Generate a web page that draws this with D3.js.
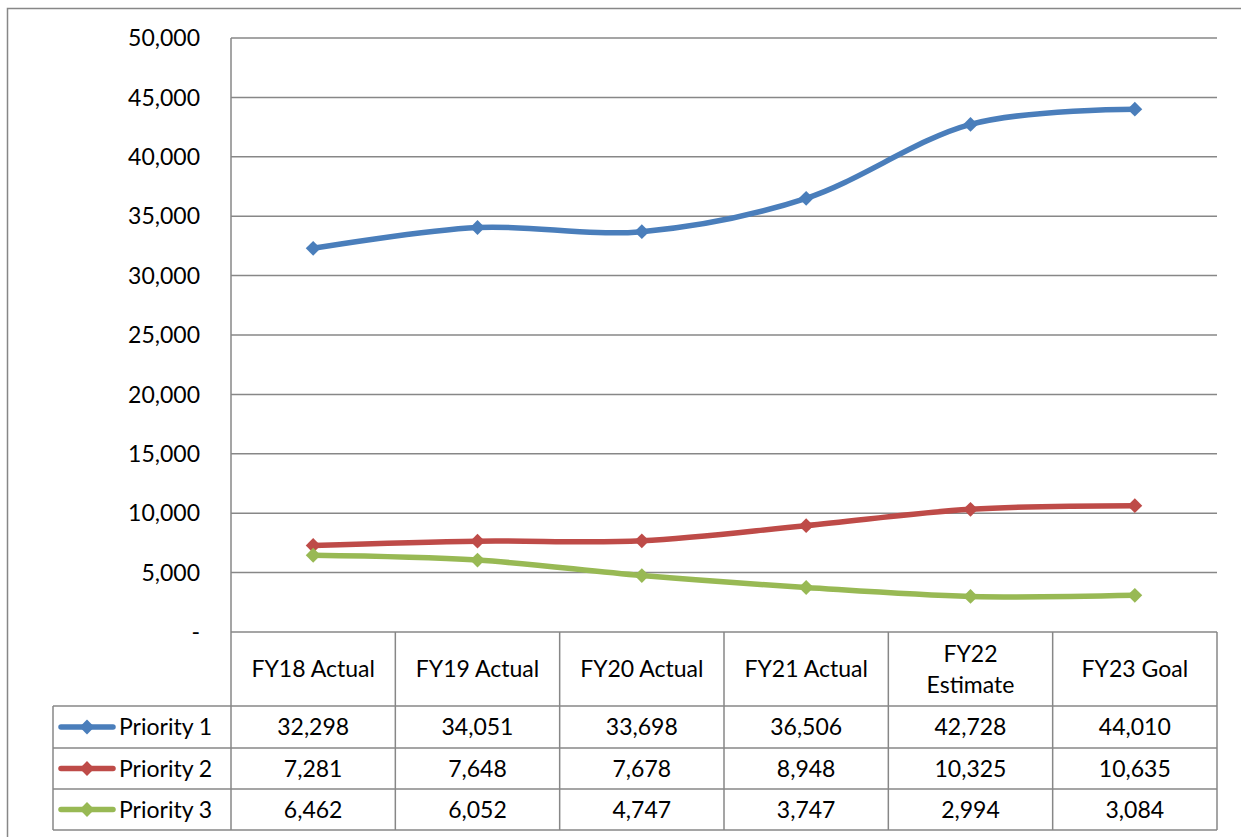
<!DOCTYPE html>
<html>
<head>
<meta charset="utf-8">
<script src="https://cdn.jsdelivr.net/npm/d3@7"></script>
<style>
  body { margin: 0; background: #fff; }
  text { font-family: Lato, "Open Sans", sans-serif; fill: #000; }
</style>
</head>
<body>
<script>
// data
const categories = ["FY18 Actual", "FY19 Actual", "FY20 Actual", "FY21 Actual", "FY22 Estimate", "FY23 Goal"];
const headerLines = [["FY18 Actual"], ["FY19 Actual"], ["FY20 Actual"], ["FY21 Actual"], ["FY22", "Estimate"], ["FY23 Goal"]];
const priority1 = [32298, 34051, 33698, 36506, 42728, 44010];
const priority2 = [7281, 7648, 7678, 8948, 10325, 10635];
const priority3 = [6462, 6052, 4747, 3747, 2994, 3084];
const seriesNames = ["Priority 1", "Priority 2", "Priority 3"];
const seriesColors = ["#4A7EBB", "#BE4B48", "#98B954"];
const yTicks = [0, 5000, 10000, 15000, 20000, 25000, 30000, 35000, 40000, 45000, 50000];

const series = [priority1, priority2, priority3];

const W = 1241, H = 837;
const plotLeft = 231, plotRight = 1217, plotTop = 38, axisY = 632;
const rowYs = [706, 748, 789, 830];
const legendLeft = 53;
const gridColor = "#878787";
const fs = 23;

const svg = d3.select("body").append("svg")
  .attr("width", W)
  .attr("height", H);

// outer frame
svg.append("path")
  .attr("d", `M7.5,${H + 5}V8.5H${W + 5}`)
  .attr("fill", "none")
  .attr("stroke", gridColor)
  .attr("stroke-width", 1.5);

const x = d3.scaleBand().domain(categories).range([plotLeft, plotRight]);
const y = d3.scaleLinear().domain([0, 50000]).range([axisY, plotTop]);
const fmt = d3.format(",");

// gridlines
svg.append("g")
  .selectAll("line")
  .data(yTicks)
  .enter().append("line")
  .attr("x1", plotLeft)
  .attr("x2", plotRight)
  .attr("y1", d => y(d))
  .attr("y2", d => y(d))
  .attr("stroke", gridColor)
  .attr("stroke-width", 1.5);

// y labels
svg.append("g")
  .selectAll("text")
  .data(yTicks)
  .enter().append("text")
  .attr("x", 200)
  .attr("y", d => y(d))
  .attr("dy", "0.36em")
  .attr("text-anchor", "end")
  .style("font-size", fs + "px")
  .text(d => d === 0 ? "-" : fmt(d));

// table grid
const grid = svg.append("g")
  .attr("stroke", gridColor)
  .attr("stroke-width", 1.5);

// left axis line down through table
grid.append("line")
  .attr("x1", plotLeft).attr("x2", plotLeft)
  .attr("y1", plotTop).attr("y2", rowYs[3]);

// column separators
grid.selectAll(".col")
  .data(categories)
  .enter().append("line")
  .attr("class", "col")
  .attr("x1", d => x(d) + x.bandwidth())
  .attr("x2", d => x(d) + x.bandwidth())
  .attr("y1", axisY)
  .attr("y2", rowYs[3]);

// legend box left edge
grid.append("line")
  .attr("x1", legendLeft).attr("x2", legendLeft)
  .attr("y1", rowYs[0]).attr("y2", rowYs[3]);

// horizontal rows
grid.selectAll(".row")
  .data(rowYs)
  .enter().append("line")
  .attr("class", "row")
  .attr("x1", legendLeft)
  .attr("x2", plotRight)
  .attr("y1", d => d)
  .attr("y2", d => d);

// header labels
const hdr = svg.append("g")
  .selectAll("text")
  .data(categories)
  .enter().append("text")
  .attr("text-anchor", "middle")
  .style("font-size", fs + "px");

hdr.each(function(d, i) {
  const lines = headerLines[i];
  const cy = (axisY + rowYs[0]) / 2;
  const lh = 31;
  d3.select(this).selectAll("tspan")
    .data(lines)
    .enter().append("tspan")
    .attr("x", x(d) + x.bandwidth() / 2)
    .attr("y", (l, j) => cy + (j - (lines.length - 1) / 2) * lh)
    .attr("dy", "0.36em")
    .text(l => l);
});

// data values in table
series.forEach((vals, s) => {
  const cy = (rowYs[s] + rowYs[s + 1]) / 2;
  svg.append("g")
    .selectAll("text")
    .data(vals)
    .enter().append("text")
    .attr("x", (d, i) => x(categories[i]) + x.bandwidth() / 2)
    .attr("y", cy)
    .attr("dy", "0.36em")
    .attr("text-anchor", "middle")
    .style("font-size", fs + "px")
    .text(d => fmt(d));

  // legend key
  const key = svg.append("g");
  key.append("line")
    .attr("x1", 61).attr("x2", 113)
    .attr("y1", cy).attr("y2", cy)
    .attr("stroke", seriesColors[s])
    .attr("stroke-width", 5.5)
    .attr("stroke-linecap", "round");
  key.append("path")
    .attr("d", d3.symbol(d3.symbolDiamond2, 140)())
    .attr("transform", `translate(87,${cy})`)
    .attr("fill", seriesColors[s]);
  key.append("text")
    .attr("x", 119)
    .attr("y", cy)
    .attr("dy", "0.36em")
    .style("font-size", fs + "px")
    .text(seriesNames[s]);
});

// lines
const line = d3.line()
  .x((d, i) => x(categories[i]) + x.bandwidth() / 2)
  .y(d => y(d))
  .curve(d3.curveCatmullRom.alpha(0));

series.forEach((vals, s) => {
  svg.append("path")
    .datum(vals)
    .attr("d", line)
    .attr("fill", "none")
    .attr("stroke", seriesColors[s])
    .attr("stroke-width", 5.5)
    .attr("stroke-linecap", "round");

  svg.append("g")
    .selectAll("path")
    .data(vals)
    .enter().append("path")
    .attr("d", d3.symbol(d3.symbolDiamond2, 140)())
    .attr("transform", (d, i) => `translate(${x(categories[i]) + x.bandwidth() / 2},${y(d)})`)
    .attr("fill", seriesColors[s]);
});
</script>
</body>
</html>
